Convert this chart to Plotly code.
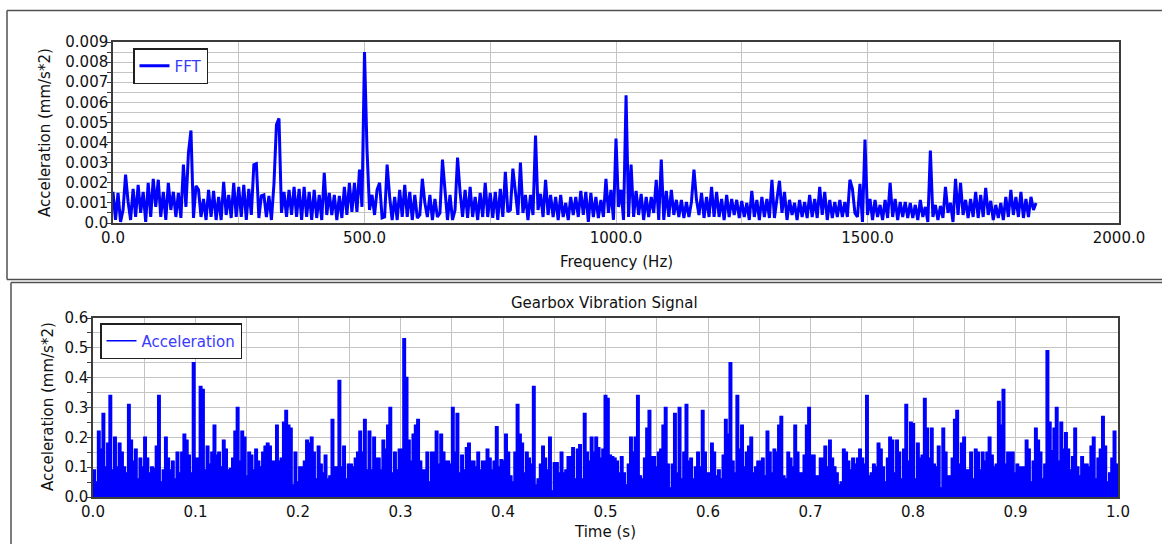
import numpy as np
import plotly.graph_objects as go

W, H = 1162, 544

# ---------------- data ----------------
# FFT amplitude, in units of 1e-3 mm/s*2, one value every 5 Hz from 0 Hz
fft_step_hz = 5.0
fft_amp_milli = [
    1.55, 0.15, 1.5, 0.05, 0.65, 2.4, 1.05, 0.15, 1.7, 0.3, 1.9, 0.5, 1.55, 0.05, 2.0, 0.3, 2.2, 0.8, 2.15, 0.3,
    1.55, 0.15, 2.0, 0.65, 1.55, 0.3, 1.5, 0.25, 2.9, 0.8, 3.5, 4.6, 0.25, 1.85, 1.65, 0.3, 1.2, 0.15, 1.65, 0.3,
    1.6, 0.15, 1.3, 0.15, 2.05, 0.4, 1.4, 0.25, 2.0, 0.3, 1.8, 0.3, 1.9, 0.15, 1.7, 0.4, 2.9, 2.95, 0.25, 1.35,
    1.4, 0.3, 1.35, 0.15, 1.95, 4.9, 5.2, 0.5, 1.55, 0.3, 1.65, 0.4, 1.8, 0.3, 1.7, 0.15, 1.8, 0.3, 1.55, 0.15,
    1.65, 0.25, 1.4, 0.15, 2.5, 0.4, 1.5, 0.4, 1.4, 0.15, 1.35, 0.25, 1.8, 0.4, 2.0, 0.55, 2.0, 0.55, 2.65, 0.8,
    8.5, 3.65, 0.65, 1.4, 0.4, 1.65, 2.0, 0.25, 0.3, 2.9, 1.3, 0.15, 1.3, 0.15, 1.65, 0.3, 1.9, 0.3, 1.55, 0.15,
    1.4, 0.25, 0.4, 2.2, 1.0, 0.3, 1.4, 0.15, 1.2, 0.3, 0.5, 3.15, 1.65, 0.15, 1.4, 0.15, 0.65, 3.25, 1.55, 0.3,
    1.65, 0.25, 1.8, 0.3, 1.3, 0.15, 1.5, 0.3, 2.0, 0.3, 1.5, 0.25, 1.55, 0.15, 1.7, 0.3, 2.55, 0.55, 0.65, 2.7,
    1.55, 0.4, 3.0, 0.5, 1.4, 0.15, 1.4, 0.4, 4.35, 0.65, 1.45, 0.3, 2.15, 0.4, 1.4, 0.3, 1.3, 0.15, 1.4, 0.3,
    1.0, 0.15, 1.3, 0.4, 1.3, 0.3, 1.6, 0.4, 1.55, 0.05, 1.5, 0.3, 1.3, 0.25, 1.15, 0.3, 2.2, 0.5, 1.65, 0.15,
    4.2, 0.8, 1.65, 0.15, 6.35, 0.3, 2.9, 0.3, 1.6, 0.4, 1.45, 0.15, 1.3, 0.3, 1.3, 0.5, 2.15, 0.15, 3.15, 0.15,
    1.6, 0.3, 1.65, 0.4, 1.15, 0.3, 1.15, 0.25, 1.05, 0.3, 1.05, 2.65, 1.15, 0.4, 1.5, 0.25, 1.3, 0.3, 1.8, 0.3,
    1.55, 0.3, 1.2, 0.15, 1.4, 0.3, 1.2, 0.4, 1.15, 0.25, 1.1, 0.3, 1.0, 0.15, 1.6, 0.3, 1.15, 0.15, 1.3, 0.3,
    1.2, 0.25, 2.15, 0.25, 1.2, 2.1, 0.5, 1.55, 0.15, 1.15, 0.4, 1.0, 0.15, 1.15, 0.3, 1.05, 0.25, 1.4, 0.3, 1.2,
    0.25, 1.8, 0.4, 1.55, 0.15, 1.15, 0.25, 1.05, 0.3, 1.15, 0.3, 1.05, 0.3, 2.15, 1.7, 0.5, 0.3, 1.95, 0.05, 4.15,
    0.4, 1.2, 0.15, 1.15, 0.3, 0.9, 0.15, 1.15, 0.25, 2.0, 0.3, 1.2, 0.15, 1.05, 0.3, 1.05, 0.25, 1.0, 0.25, 0.9,
    0.15, 1.15, 0.3, 0.8, 0.05, 3.6, 0.3, 0.9, 0.15, 0.85, 0.25, 1.8, 0.5, 1.0, 0.05, 2.2, 0.4, 2.0, 0.4, 1.15,
    0.25, 1.2, 0.3, 1.55, 0.25, 1.4, 0.3, 1.75, 0.4, 1.1, 0.15, 0.9, 0.25, 1.0, 0.15, 1.3, 0.3, 1.65, 0.4, 1.3,
    0.3, 1.55, 0.25, 1.2, 0.3, 1.3, 0.65, 1.0,
]

# Gearbox vibration signal envelope (mm/s*2), evenly spaced over 0..1 s
accel_part1 = [
    0.09, 0.05, 0.22, 0.16, 0.28, 0.1, 0.18, 0.34, 0.09, 0.2, 0.1, 0.18, 0.15, 0.1, 0.08, 0.31, 0.19, 0.12, 0.16, 0.06,
    0.13, 0.1, 0.2, 0.13, 0.08, 0.1, 0.095, 0.17, 0.34, 0.05, 0.09, 0.2, 0.13, 0.09, 0.12, 0.06, 0.15, 0.08, 0.15, 0.21,
    0.19, 0.14, 0.08, 0.45, 0.13, 0.13, 0.37, 0.36, 0.09, 0.17, 0.11, 0.15, 0.24, 0.14, 0.15, 0.1, 0.19, 0.16, 0.09, 0.095,
    0.13, 0.22, 0.3, 0.12, 0.22, 0.2, 0.07, 0.15, 0.14, 0.09, 0.16, 0.12, 0.1, 0.15, 0.17, 0.18, 0.17, 0.12, 0.12, 0.24,
    0.12, 0.13, 0.25, 0.29, 0.24, 0.23, 0.04, 0.15, 0.05, 0.1, 0.1, 0.12, 0.19, 0.18, 0.2, 0.15, 0.06, 0.17, 0.11, 0.08,
    0.14, 0.06, 0.07, 0.26, 0.1, 0.1, 0.39, 0.1, 0.17, 0.06, 0.11, 0.11, 0.1, 0.13,
]
accel_part2 = [
    0.15, 0.22, 0.15, 0.26, 0.09, 0.22, 0.09, 0.2, 0.13, 0.13, 0.09, 0.19, 0.16, 0.24, 0.3, 0.08, 0.15, 0.09, 0.16, 0.16,
    0.53, 0.4, 0.19, 0.12, 0.21, 0.24, 0.26, 0.12, 0.09, 0.09, 0.15, 0.05, 0.15, 0.15, 0.22, 0.11, 0.21, 0.15, 0.12, 0.12,
    0.11, 0.3, 0.15, 0.28, 0.08, 0.14, 0.09, 0.165, 0.18, 0.12, 0.12, 0.1, 0.15, 0.09, 0.12, 0.12, 0.16, 0.13, 0.09, 0.12,
    0.235, 0.1, 0.125, 0.12, 0.21, 0.15, 0.07, 0.05, 0.15, 0.31, 0.21, 0.18, 0.08, 0.15, 0.13, 0.11, 0.37, 0.04, 0.06, 0.11,
    0.17, 0.13, 0.09, 0.2, 0.02, 0.115, 0.115, 0.08, 0.15, 0.08, 0.09, 0.135, 0.135, 0.165, 0.06, 0.16, 0.175, 0.06, 0.28, 0.15,
    0.12, 0.2, 0.15, 0.2, 0.165, 0.13, 0.16, 0.34, 0.33, 0.14,
]
accel_part3 = [
    0.135, 0.13, 0.12, 0.08, 0.135, 0.08, 0.04, 0.11, 0.2, 0.15, 0.2, 0.34, 0.07, 0.06, 0.13, 0.23, 0.29, 0.135, 0.135, 0.1,
    0.15, 0.16, 0.24, 0.3, 0.11, 0.03, 0.11, 0.28, 0.08, 0.3, 0.06, 0.15, 0.31, 0.12, 0.13, 0.06, 0.1, 0.15, 0.1, 0.29,
    0.15, 0.08, 0.08, 0.18, 0.15, 0.07, 0.09, 0.06, 0.14, 0.26, 0.21, 0.45, 0.12, 0.08, 0.34, 0.16, 0.24, 0.1, 0.15, 0.17,
    0.2, 0.08, 0.1, 0.12, 0.12, 0.13, 0.07, 0.22, 0.15, 0.08, 0.16, 0.15, 0.24, 0.27, 0.07, 0.06, 0.15, 0.13, 0.1, 0.24,
    0.15, 0.08, 0.08, 0.14, 0.24, 0.3, 0.14, 0.14, 0.07, 0.07, 0.13, 0.13, 0.17, 0.1, 0.19, 0.13, 0.1, 0.08, 0.04, 0.05,
    0.16, 0.15, 0.12, 0.09, 0.13, 0.11, 0.13, 0.16, 0.13,
]
accel_part4 = [
    0.11, 0.34, 0.07, 0.08, 0.11, 0.1, 0.18, 0.16, 0.1, 0.05, 0.13, 0.2, 0.19, 0.08, 0.19, 0.15, 0.06, 0.16, 0.31, 0.12,
    0.25, 0.245, 0.06, 0.18, 0.13, 0.14, 0.33, 0.23, 0.13, 0.23, 0.11, 0.1, 0.17, 0.03, 0.23, 0.15, 0.07, 0.07, 0.13, 0.26,
    0.29, 0.11, 0.18, 0.2, 0.09, 0.09, 0.15, 0.06, 0.16, 0.15, 0.09, 0.15, 0.12, 0.15, 0.2, 0.14, 0.1, 0.11, 0.32, 0.24,
    0.36, 0.11, 0.15, 0.15, 0.15, 0.08, 0.11, 0.1, 0.1, 0.1, 0.19, 0.16, 0.05, 0.12, 0.23, 0.19, 0.15, 0.06, 0.11, 0.49,
    0.25, 0.155, 0.23, 0.3, 0.12, 0.25, 0.16, 0.215, 0.16, 0.09, 0.135, 0.23, 0.1, 0.07, 0.135, 0.11, 0.11, 0.1, 0.17, 0.2,
    0.06, 0.13, 0.16, 0.27, 0.17, 0.05, 0.08, 0.13, 0.22, 0.11, 0.02,
]
time_start_s, time_end_s = 0.0, 1.0

# ticks
fft_x_tickvals = [0, 250, 500, 750, 1000, 1250, 1500, 1750, 2000]
fft_x_ticktext = ["0.0", "", "500.0", "", "1000.0", "", "1500.0", "", "2000.0"]
fft_y_tickvals = [i * 0.0005 for i in range(19)]
fft_y_ticktext = ["0.0" if i == 0 else (f"{i * 0.0005:.3f}" if i % 2 == 0 else "") for i in range(19)]
sig_x_tickvals = [i * 0.05 for i in range(21)]
sig_x_ticktext = [f"{i * 0.05:.1f}" if i % 2 == 0 else "" for i in range(21)]
sig_y_tickvals = [i * 0.05 for i in range(13)]
sig_y_ticktext = [f"{i * 0.05:.1f}" if i % 2 == 0 else "" for i in range(13)]

# ---------------- build ----------------
fft_amp = np.array(fft_amp_milli) * 1e-3
fft_freq = np.arange(len(fft_amp)) * fft_step_hz
accel = np.array(accel_part1 + accel_part2 + accel_part3 + accel_part4)
t = np.linspace(time_start_s, time_end_s, len(accel))

BLUE = "#0000ff"
GRID = "#c4c4c4"
AXLINE = "#3c3c3c"
TXT = "#111111"
FONT = "DejaVu Sans"

fig = go.Figure()
fig.add_trace(go.Scatter(x=fft_freq, y=fft_amp, mode="lines", name="FFT",
                         line=dict(color=BLUE, width=3.0, simplify=False), xaxis="x", yaxis="y",
                         legend="legend"))
fig.add_trace(go.Scatter(x=t, y=accel, mode="lines", name="Acceleration", showlegend=False,
                         line=dict(color=BLUE, width=0.5, shape="hv"), fill="tozeroy", fillcolor=BLUE,
                         xaxis="x2", yaxis="y2"))
fig.add_trace(go.Scatter(x=t, y=accel, mode="lines", name="Acceleration",
                         line=dict(color=BLUE, width=1.6, shape="hv", simplify=False),
                         xaxis="x2", yaxis="y2", legend="legend2"))


def px_x(p):
    return p / W


def px_y(p):
    return 1 - p / H


axis_common = dict(showgrid=True, gridcolor=GRID, gridwidth=1, showline=True, linecolor=AXLINE,
                   linewidth=1.5, mirror=True, zeroline=False, tickfont=dict(family=FONT, size=15, color=TXT),
                   tickmode="array")


def frame_line(x0, y0, x1, y1):
    return dict(type="line", xref="paper", yref="paper", x0=px_x(x0), y0=px_y(y0), x1=px_x(x1), y1=px_y(y1),
                line=dict(color="#505050", width=1.5), layer="below")


fig.update_layout(
    width=W, height=H, margin=dict(l=0, r=0, t=0, b=0, autoexpand=False),
    paper_bgcolor="white", plot_bgcolor="white",
    font=dict(family=FONT, size=15, color=TXT),
    showlegend=True,
    xaxis=dict(domain=[px_x(113), px_x(1119)], range=[0, 2000], tickvals=fft_x_tickvals,
               ticktext=fft_x_ticktext, ticks="", anchor="y", **axis_common),
    yaxis=dict(domain=[px_y(223), px_y(42)], range=[0, 0.009], tickvals=fft_y_tickvals,
               ticktext=fft_y_ticktext, ticks="outside", ticklen=4, tickcolor=AXLINE, anchor="x",
               ticklabelstandoff=-4, **axis_common),
    xaxis2=dict(domain=[px_x(93), px_x(1118)], range=[0, 1.0], tickvals=sig_x_tickvals,
                ticktext=sig_x_ticktext, ticks="", anchor="y2", **axis_common),
    yaxis2=dict(domain=[px_y(497), px_y(318)], range=[0, 0.6], tickvals=sig_y_tickvals,
                ticktext=sig_y_ticktext, ticks="outside", ticklen=4, tickcolor=AXLINE, anchor="x2",
                ticklabelstandoff=-4, **axis_common),
    legend=dict(x=px_x(133), y=px_y(48), xanchor="left", yanchor="top", bgcolor="white",
                bordercolor="#202020", borderwidth=1.5, itemwidth=30,
                font=dict(family=FONT, size=15, color="#3a3aff")),
    legend2=dict(x=px_x(100), y=px_y(323), xanchor="left", yanchor="top", bgcolor="white",
                 bordercolor="#202020", borderwidth=1.5, itemwidth=30,
                 font=dict(family=FONT, size=15, color="#3a3aff")),
    shapes=[
        frame_line(7, 10.5, 1162, 10.5),
        frame_line(7, 10.5, 7, 279.5),
        frame_line(7, 279.5, 1162, 279.5),
        frame_line(11, 282.5, 1162, 282.5),
        frame_line(11, 282.5, 11, 544),
    ],
    annotations=[
        dict(text="Acceleration (mm/s*2)", textangle=-90, x=px_x(45), y=px_y(133), xref="paper", yref="paper",
             showarrow=False, xanchor="center", yanchor="middle", font=dict(family=FONT, size=15, color=TXT)),
        dict(text="Frequency (Hz)", x=px_x(616), y=px_y(262), xref="paper", yref="paper",
             showarrow=False, xanchor="center", yanchor="middle", font=dict(family=FONT, size=15, color=TXT)),
        dict(text="Gearbox Vibration Signal", x=px_x(604), y=px_y(303), xref="paper", yref="paper",
             showarrow=False, xanchor="center", yanchor="middle", font=dict(family=FONT, size=15, color=TXT)),
        dict(text="Acceleration (mm/s*2)", textangle=-90, x=px_x(48), y=px_y(407), xref="paper", yref="paper",
             showarrow=False, xanchor="center", yanchor="middle", font=dict(family=FONT, size=15, color=TXT)),
        dict(text="Time (s)", x=px_x(605), y=px_y(532), xref="paper", yref="paper",
             showarrow=False, xanchor="center", yanchor="middle", font=dict(family=FONT, size=15, color=TXT)),
    ],
)

fig.write_html(
    "out.html",
    config={"displayModeBar": False},
    post_script=(
        "document.documentElement.style.margin='0';document.documentElement.style.padding='0';"
        "document.documentElement.style.overflow='hidden';"
        "document.body.style.margin='0';document.body.style.padding='0';document.body.style.overflow='hidden';"
    ),
)
